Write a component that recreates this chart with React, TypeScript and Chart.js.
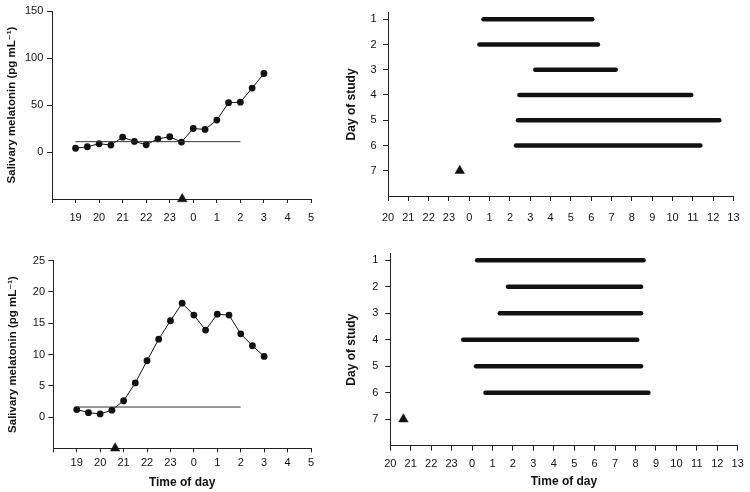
import React, { useEffect, useRef } from "react";
import { Chart, registerables } from "chart.js";
Chart.register(...registerables);

const FAMILY = "'Liberation Sans', Arial, Helvetica, 'DejaVu Sans', sans-serif";
const INK = "#111111";
const AXIS = "#222222";

// ---- data ----
const sampleTimes = [19, 19.5, 20, 20.5, 21, 21.5, 22, 22.5, 23, 23.5, 0, 0.5, 1, 1.5, 2, 2.5, 3];
const melatoninA = [4, 5.6, 8.8, 7.4, 15.8, 11.3, 7.7, 14, 16.2, 10.6, 25, 24, 34, 52.5, 53, 68, 83.5];
const melatoninB = [1.2, 0.7, 0.5, 1.1, 2.6, 5.45, 9, 12.45, 15.4, 18.2, 16.3, 13.9, 16.45, 16.3, 13.3, 11.4, 9.7];
const thresholdA = 11;
const thresholdB = 1.6;
const thresholdSpan = [19, 2];
const onsetA = 23.53;
const onsetB = 20.64;

const studyDays = [1, 2, 3, 4, 5, 6];
const onsetDay = 7;
const sleepStartA = [0.7, 0.5, 3.25, 2.47, 2.4, 2.3];
const sleepEndA = [6.05, 6.33, 7.2, 10.92, 12.3, 11.37];
const sleepStartB = [0.25, 1.76, 1.36, 23.57, 0.2, 0.66];
const sleepEndB = [8.39, 8.27, 8.27, 8.08, 8.27, 8.63];

const yTicksA = [0, 50, 100, 150];
const yTicksB = [0, 5, 10, 15, 20, 25];
const dayTicks = [1, 2, 3, 4, 5, 6, 7];
const hourTicksLeft = [18, 19, 20, 21, 22, 23, 24, 25, 26, 27, 28, 29];
const hourTicksRight = [20, 21, 22, 23, 24, 25, 26, 27, 28, 29, 30, 31, 32, 33, 34, 35, 36, 37];

const Y_TITLE = "Salivary melatonin (pg mL\u207B\u00B9)";
const X_TITLE = "Time of day";
const DAY_TITLE = "Day of study";

// continuous hour axis (clock times after midnight go past 24)
const toAxis = (h: number) => (h < 16 ? h + 24 : h);

function xScale(o: { ticks: number[]; height: number; pad: number; tickLen: number; title: boolean; titlePad: number; hideFirst: boolean }) {
  return {
    type: "linear" as const,
    min: o.ticks[0],
    max: o.ticks[o.ticks.length - 1],
    afterBuildTicks: (s: any) => {
      s.ticks = o.ticks.map((v) => ({ value: v }));
    },
    afterFit: (s: any) => {
      s.height = o.height;
    },
    ticks: {
      autoSkip: false,
      maxRotation: 0,
      padding: o.pad,
      color: INK,
      font: { family: FAMILY, size: 11 },
      callback: (v: any) => (o.hideFirst && v === o.ticks[0] ? "" : String(v % 24)),
    },
    grid: { drawOnChartArea: false, drawTicks: true, tickLength: o.tickLen, color: AXIS, lineWidth: 1 },
    border: { display: true, color: AXIS, width: 1 },
    title: {
      display: o.title,
      text: X_TITLE,
      color: INK,
      font: { family: FAMILY, size: 12, weight: "bold" as const },
      padding: { top: 0, bottom: o.titlePad },
    },
  };
}

function yScale(o: { ticks: number[]; min: number; max: number; width: number; pad: number; reverse: boolean; title: string; titleSize: number; titlePad: number }) {
  return {
    type: "linear" as const,
    min: o.min,
    max: o.max,
    reverse: o.reverse,
    afterBuildTicks: (s: any) => {
      s.ticks = o.ticks.map((v) => ({ value: v }));
    },
    afterFit: (s: any) => {
      s.width = o.width;
    },
    ticks: {
      autoSkip: false,
      padding: o.pad,
      color: INK,
      font: { family: FAMILY, size: 11 },
    },
    grid: { drawOnChartArea: false, drawTicks: true, tickLength: 5, color: AXIS, lineWidth: 1 },
    border: { display: true, color: AXIS, width: 1 },
    title: {
      display: true,
      text: o.title,
      color: INK,
      font: { family: FAMILY, size: o.titleSize, weight: "bold" as const },
      padding: { top: o.titlePad, bottom: 0 },
    },
  };
}

const triangleStyle = {
  pointStyle: "triangle" as const,
  pointRadius: 5.5,
  pointBackgroundColor: INK,
  pointBorderColor: INK,
  pointBorderWidth: 0.5,
  clip: false as const,
};

function melatoninConfig(values: number[], threshold: number, onset: number, yMin: number, yMax: number, yTicks: number[], lay: any) {
  return {
    type: "scatter" as const,
    data: {
      datasets: [
        {
          data: thresholdSpan.map((t) => ({ x: toAxis(t), y: threshold })),
          showLine: true,
          borderColor: "#333333",
          borderWidth: 1,
          pointRadius: 0,
        },
        {
          data: sampleTimes.map((t, i) => ({ x: toAxis(t), y: values[i] })),
          showLine: true,
          borderColor: INK,
          borderWidth: 1,
          pointRadius: 3.4,
          pointBackgroundColor: INK,
          pointBorderColor: INK,
          pointBorderWidth: 0,
        },
        {
          data: [{ x: toAxis(onset), y: yMin }],
          ...triangleStyle,
        },
      ],
    },
    options: {
      animation: false as const,
      responsive: false,
      events: [],
      layout: { padding: lay.padding },
      plugins: { legend: { display: false }, tooltip: { enabled: false } },
      scales: {
        x: xScale({ ticks: hourTicksLeft, height: lay.xHeight, pad: lay.xPad, tickLen: 4, title: lay.xTitle, titlePad: lay.xTitlePad, hideFirst: true }),
        y: yScale({ ticks: yTicks, min: yMin, max: yMax, width: lay.yWidth, pad: lay.yPad, reverse: false, title: Y_TITLE, titleSize: 11.5, titlePad: lay.yTitlePad }),
      },
    },
  };
}

function sleepConfig(starts: number[], ends: number[], onset: number, lay: any) {
  const bars = studyDays.map((d, i) => ({
    data: [
      { x: toAxis(starts[i]), y: d },
      { x: toAxis(ends[i]), y: d },
    ],
    showLine: true,
    borderColor: INK,
    borderWidth: 4.6,
    borderCapStyle: "round" as const,
    pointRadius: 0,
  }));
  return {
    type: "scatter" as const,
    data: {
      datasets: [
        ...bars,
        {
          data: [{ x: onset, y: onsetDay }],
          ...triangleStyle,
        },
      ],
    },
    options: {
      animation: false as const,
      responsive: false,
      events: [],
      layout: { padding: lay.padding },
      plugins: { legend: { display: false }, tooltip: { enabled: false } },
      scales: {
        x: xScale({ ticks: hourTicksRight, height: lay.xHeight, pad: lay.xPad, tickLen: 5, title: lay.xTitle, titlePad: lay.xTitlePad, hideFirst: false }),
        y: yScale({ ticks: dayTicks, min: 0.75, max: 8, width: lay.yWidth, pad: lay.yPad, reverse: true, title: DAY_TITLE, titleSize: 12, titlePad: lay.yTitlePad }),
      },
    },
  };
}

function Panel({ left, top, width, height, build }: { left: number; top: number; width: number; height: number; build: () => any }) {
  const ref = useRef<HTMLCanvasElement | null>(null);
  useEffect(() => {
    if (!ref.current) return;
    const chart = new Chart(ref.current, build());
    return () => chart.destroy();
  }, []);
  return (
    <canvas
      ref={ref}
      width={width}
      height={height}
      style={{ position: "absolute", left, top, width, height, display: "block" }}
    />
  );
}

export default function App() {
  return (
    <div style={{ position: "absolute", left: 0, top: 0, width: 750, height: 492, background: "#ffffff", overflow: "hidden" }}>
      <Panel
        left={0}
        top={0}
        width={330}
        height={240}
        build={() =>
          melatoninConfig(melatoninA, thresholdA, onsetA, -50, 150, yTicksA, {
            padding: { top: 11, right: 19, bottom: 0, left: 0 },
            xHeight: 41,
            xPad: 8.6,
            xTitle: false,
            xTitlePad: 0,
            yWidth: 52,
            yPad: 3.7,
            yTitlePad: 4.5,
          })
        }
      />
      <Panel
        left={330}
        top={0}
        width={420}
        height={240}
        build={() =>
          sleepConfig(sleepStartA, sleepEndA, onsetA, {
            padding: { top: 2, right: 11, bottom: 0, left: 0 },
            xHeight: 44,
            xPad: 10.4,
            xTitle: false,
            xTitlePad: 0,
            yWidth: 58,
            yPad: 6.3,
            yTitlePad: 14.5,
          })
        }
      />
      <Panel
        left={0}
        top={240}
        width={330}
        height={252}
        build={() =>
          melatoninConfig(melatoninB, thresholdB, onsetB, -5, 25, yTicksB, {
            padding: { top: 20.7, right: 19, bottom: 0, left: 0 },
            xHeight: 43.7,
            xPad: 4,
            xTitle: true,
            xTitlePad: 2.3,
            yWidth: 53.3,
            yPad: 3.3,
            yTitlePad: 5.5,
          })
        }
      />
      <Panel
        left={330}
        top={240}
        width={420}
        height={252}
        build={() =>
          sleepConfig(sleepStartB, sleepEndB, onsetB, {
            padding: { top: 11.7, right: 10.7, bottom: 0, left: 0 },
            xHeight: 46.3,
            xPad: 6.2,
            xTitle: true,
            xTitlePad: 3.3,
            yWidth: 60.3,
            yPad: 7,
            yTitlePad: 14.5,
          })
        }
      />
    </div>
  );
}
